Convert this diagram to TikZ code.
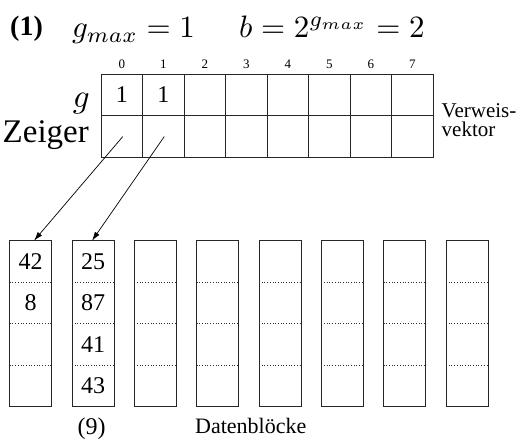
\documentclass[tikz,border=0pt]{standalone}
\usepackage{fontspec}
\setmainfont{Liberation Serif}
\usetikzlibrary{arrows.meta,calc}
\newcommand\fsz[1]{\fontsize{#1pt}{#1pt}\selectfont}
\begin{document}
\begin{tikzpicture}[x=1pt,y=-1pt,
  cell/.style={draw=black!85,line width=0.9pt,minimum width=41.5pt,minimum height=41.75pt,inner sep=0pt,outer sep=0pt,font=\fsz{24}},
  idx/.style={font=\fsz{13},inner sep=0pt,anchor=base},
  blk/.style={draw=black!85,line width=0.9pt,minimum width=42pt,minimum height=166pt,inner sep=0pt,outer sep=0pt},
  val/.style={font=\fsz{24},inner sep=0pt},
  sepline/.style={dotted,line width=0.7pt,black!80},
  ptr/.style={-{Latex[length=9pt,width=5.5pt]},line width=0.7pt},
  lbl/.style={inner sep=0pt}]
\useasboundingbox (0,0) rectangle (523,441);
% title
\node[lbl,anchor=base west,font=\bfseries\fsz{28}] (t1) at (10,35.4) {(1)};
\node[lbl,anchor=base west] (t2) at (72,38) {\scalebox{3.1}{$g_{max}=1$}};
\node[lbl,anchor=base west] (t3) at (239,38) {\scalebox{3.1}{$b=2^{g_{max}}=2$}};
% table
\foreach \i/\t in {0/1,1/1,2/,3/,4/,5/,6/,7/}{
  \node[cell] (g\i) at ({121.75+41.5*\i},94.9) {\t};
  \node[cell] (z\i) at ({121.75+41.5*\i},136.6) {};
  \node[idx] (n\i) at ({121.75+41.5*\i},69) {\i};
}
\node[lbl,anchor=base east] (lg) at (90,108) {\scalebox{3.3}{$g$}};
\node[lbl,anchor=base east,font=\fsz{33}] (lz) at (89,143) {Zeiger};
\node[lbl,anchor=base west,font=\fsz{21}] (vw1) at (441.5,118) {Verweis-};
\node[lbl,anchor=base west,font=\fsz{21}] (vw2) at (441.5,137) {vektor};
% data blocks
\foreach \i in {0,...,7}{
  \node[blk] (b\i) at ({30.7+62.33*\i},323.7) {};
  \foreach \k in {1,2,3}{
    \draw[sepline] ($(b\i.north west)!{\k/4}!(b\i.south west)$) -- ($(b\i.north east)!{\k/4}!(b\i.south east)$);
  }
}
\node[val] (v00) at ($(b0.north)!{1/8}!(b0.south)$) {42};
\node[val] (v01) at ($(b0.north)!{3/8}!(b0.south)$) {8};
\node[val] (v10) at ($(b1.north)!{1/8}!(b1.south)$) {25};
\node[val] (v11) at ($(b1.north)!{3/8}!(b1.south)$) {87};
\node[val] (v12) at ($(b1.north)!{5/8}!(b1.south)$) {41};
\node[val] (v13) at ($(b1.north)!{7/8}!(b1.south)$) {43};
% arrows
\draw[ptr] ([xshift=1pt]z0.center) -- ([xshift=3.3pt]b0.north);
\draw[ptr] ([xshift=1pt]z1.center) -- ([xshift=-1pt]b1.north);
% bottom labels
\node[lbl,anchor=base,font=\fsz{24}] (l9) at (91.7,434) {(9)};
\node[lbl,anchor=base west,font=\fsz{22}] (ld) at (195,433) {Datenblöcke};
\end{tikzpicture}
\end{document}
